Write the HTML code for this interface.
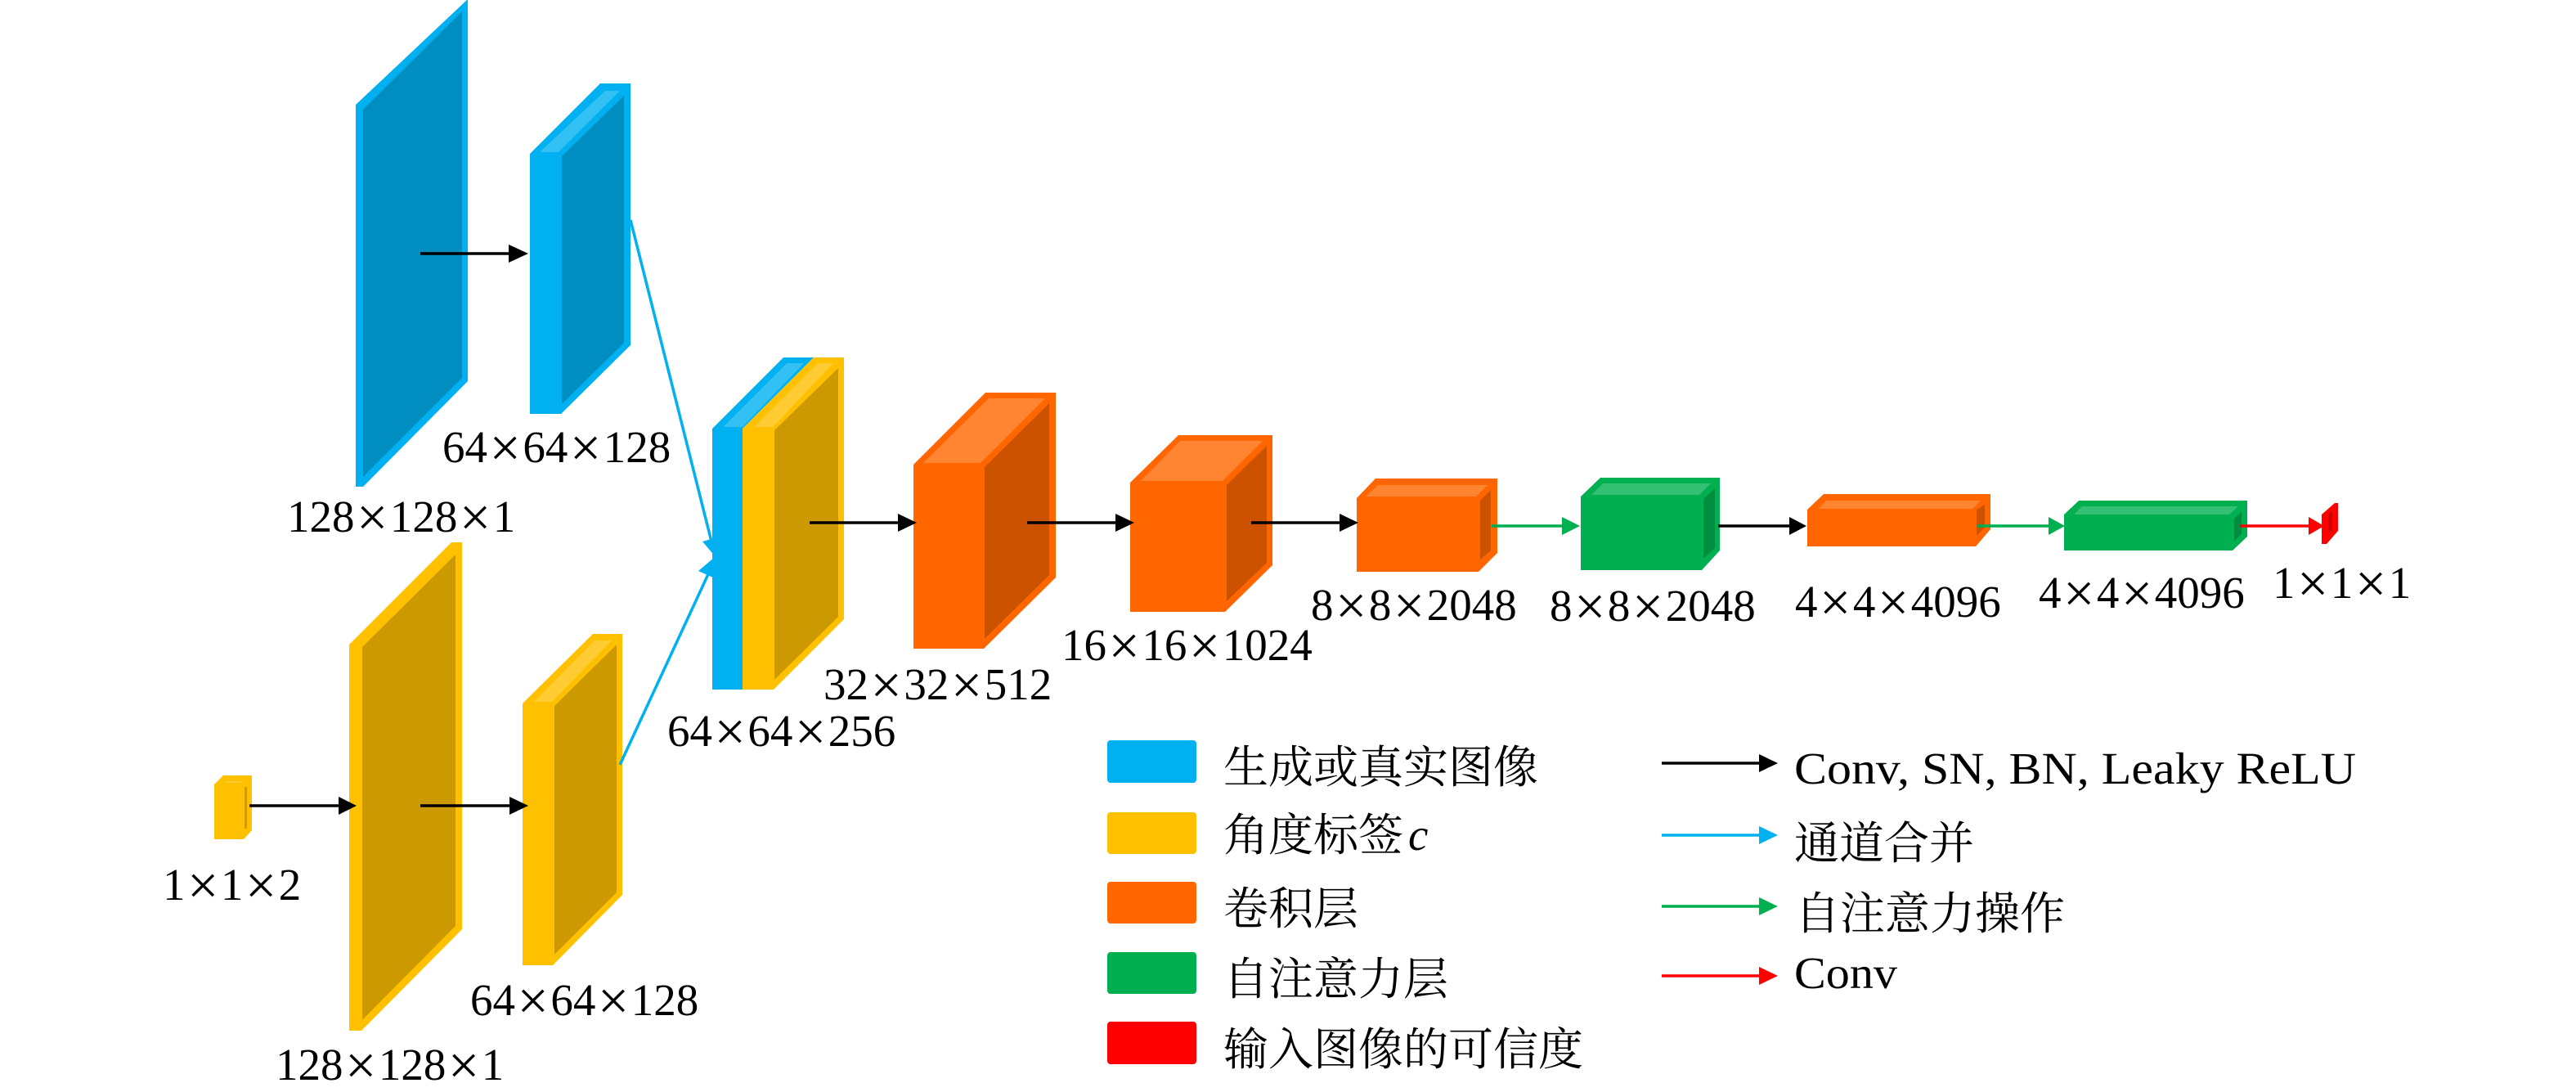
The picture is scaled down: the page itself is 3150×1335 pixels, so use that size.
<!DOCTYPE html>
<html><head><meta charset="utf-8"><style>
html,body{margin:0;padding:0;background:#fff}
svg{display:block}
text{font-family:"Liberation Serif","Noto Serif CJK SC",serif;font-size:55px;fill:#000}
.cj{font-family:"Noto Serif CJK SC","Liberation Serif",serif}
.x{font-size:68px}
</style></head><body>
<svg xmlns="http://www.w3.org/2000/svg" width="3150" height="1335" viewBox="0 0 3150 1335">
<rect width="3150" height="1335" fill="#fff"/>
<!-- blue -->
<polygon fill="#00B0F0" points="435,128 572,-1 572,466 444,595 435,595"/>
<polygon fill="#008DC0" points="444,134 565,14 565,462 444,583"/>
<polygon fill="#00B0F0" points="648,188 734,102 771,102 771,422 686,506 648,506"/>
<polygon fill="#008DC0" points="687,191 763,117 763,419 687,494"/>
<polygon fill="#33C0F3" points="660,186 683,186 758,111 740,111"/>
<!-- yellow -->
<polygon fill="#FFC000" points="262,959 273,948 308,948 308,1015 298,1026 262,1026"/>
<polygon fill="#CC9A00" points="299,962 302,962 302,1013 299,1013"/>
<polygon fill="#FFCD33" points="276,955 296,955 296,957 276,957"/>
<polygon fill="#FFC000" points="427,788 552,663 565,663 565,1136 442,1260 427,1260"/>
<polygon fill="#CC9A00" points="443,791 557,678 557,1132 443,1247"/>
<polygon fill="#FFC000" points="639,860 725,775 761,775 761,1094 676,1180 639,1180"/>
<polygon fill="#CC9A00" points="678,863 754,788 754,1091 678,1167"/>
<polygon fill="#FFCD33" points="653,858 675,858 748,783 727,783"/>
<!-- concat lines -->
<g stroke="#00B0F0" stroke-width="3.5" fill="none">
<line x1="771" y1="269" x2="870" y2="662"/>
<line x1="758" y1="935" x2="866" y2="702"/>
</g>
<polygon fill="#00B0F0" points="859,662 876,682 881,656"/>
<polygon fill="#00B0F0" points="854,698 874,681 874,707"/>
<!-- concat block -->
<polygon fill="#00B0F0" points="871,524 958,437 995,437 908,524 908,843 871,843"/>
<polygon fill="#33C0F3" points="884,522 908,522 983,444 962,444"/>
<polygon fill="#FFC000" points="908,524 995,437 1032,437 1032,757 946,843 908,843"/>
<polygon fill="#CC9A00" points="947,526 1025,450 1025,754 947,831"/>
<polygon fill="#FFCD33" points="922,522 945,522 1019,444 1000,444"/>
<!-- orange -->
<polygon fill="#FF6600" points="1117,568 1205,480 1291,480 1291,706 1203,793 1117,793"/>
<polygon fill="#CC5200" points="1204,571 1283,493 1283,703 1204,781"/>
<polygon fill="#FF8533" points="1129,566 1199,566 1278,487 1209,487"/>
<polygon fill="#FF6600" points="1382,590 1441,532 1556,532 1556,691 1498,748 1382,748"/>
<polygon fill="#CC5200" points="1500,593 1549,545 1549,688 1500,735"/>
<polygon fill="#FF8533" points="1395,588 1495,588 1544,539 1443,539"/>
<polygon fill="#FF6600" points="1659,609 1682,585 1831,585 1831,676 1808,699 1659,699"/>
<polygon fill="#CC5200" points="1810,612 1823,599 1823,673 1810,684"/>
<polygon fill="#FF8533" points="1670,607 1805,607 1819,593 1685,593"/>
<!-- green -->
<polygon fill="#00B050" points="1933,607 1957,584 2103,584 2103,673 2081,697 1933,697"/>
<polygon fill="#008D40" points="2083,610 2097,597 2097,670 2083,683"/>
<polygon fill="#33C073" points="1946,605 2078,605 2092,591 1960,591"/>
<polygon fill="#FF6600" points="2210,623 2230,604 2434,604 2434,647 2416,668 2210,668"/>
<polygon fill="#CC5200" points="2417,623 2427,617 2427,645 2417,655"/>
<polygon fill="#FF8533" points="2224,622 2412,622 2422,612 2233,612"/>
<polygon fill="#00B050" points="2524,629 2542,612 2748,612 2748,656 2730,673 2524,673"/>
<polygon fill="#008D40" points="2732,634 2741,626 2741,652 2732,662"/>
<polygon fill="#33C073" points="2536,629 2726,629 2737,619 2546,619"/>
<!-- red -->
<polygon fill="#FF0000" points="2839,629 2855,615 2859,615 2859,649 2845,665 2839,665"/>
<polygon fill="#CC0000" points="2847,628 2852,624 2852,648 2847,652"/>
<!-- black arrows -->
<g stroke="#000" stroke-width="3.5">
<line x1="514" y1="310" x2="624" y2="310"/>
<line x1="305" y1="985" x2="416" y2="985"/>
<line x1="514" y1="985" x2="625" y2="985"/>
<line x1="990" y1="639" x2="1100" y2="639"/>
<line x1="1256" y1="639" x2="1366" y2="639"/>
<line x1="1530" y1="639" x2="1640" y2="639"/>
<line x1="2101" y1="643" x2="2190" y2="643"/>
<line x1="2032" y1="933" x2="2153" y2="933"/>
</g>
<g fill="#000">
<polygon points="622,299 646,310 622,321"/>
<polygon points="414,974 436,985 414,996"/>
<polygon points="623,974 646,985 623,996"/>
<polygon points="1098,628 1121,639 1098,650"/>
<polygon points="1364,628 1387,639 1364,650"/>
<polygon points="1638,628 1661,639 1638,650"/>
<polygon points="2188,632 2209,643 2188,654"/>
<polygon points="2151,922 2174,933 2151,944"/>
</g>
<!-- coloured arrows -->
<g stroke="#00B050" stroke-width="3.5">
<line x1="1824" y1="643" x2="1912" y2="643"/>
<line x1="2418" y1="643" x2="2507" y2="643"/>
<line x1="2032" y1="1108" x2="2153" y2="1108"/>
</g>
<g fill="#00B050">
<polygon points="1910,632 1932,643 1910,654"/>
<polygon points="2505,632 2525,643 2505,654"/>
<polygon points="2151,1097 2174,1108 2151,1119"/>
</g>
<line x1="2739" y1="643" x2="2825" y2="643" stroke="#FF0000" stroke-width="3.5"/>
<polygon fill="#FF0000" points="2823,632 2842,643 2823,654"/>
<line x1="2032" y1="1021" x2="2153" y2="1021" stroke="#00B0F0" stroke-width="3.5"/>
<polygon fill="#00B0F0" points="2151,1010 2174,1021 2151,1032"/>
<line x1="2032" y1="1193" x2="2153" y2="1193" stroke="#FF0000" stroke-width="3.5"/>
<polygon fill="#FF0000" points="2151,1182 2174,1193 2151,1204"/>
<!-- dim labels -->
<text x="351" y="650">128<tspan class="x" dx="2.5" dy="5">×</tspan><tspan dx="2.5" dy="-5">128</tspan><tspan class="x" dx="2.5" dy="5">×</tspan><tspan dx="2.5" dy="-5">1</tspan></text>
<text x="541" y="565">64<tspan class="x" dx="2.5" dy="5">×</tspan><tspan dx="2.5" dy="-5">64</tspan><tspan class="x" dx="2.5" dy="5">×</tspan><tspan dx="2.5" dy="-5">128</tspan></text>
<text x="199" y="1100">1<tspan class="x" dx="2.5" dy="5">×</tspan><tspan dx="2.5" dy="-5">1</tspan><tspan class="x" dx="2.5" dy="5">×</tspan><tspan dx="2.5" dy="-5">2</tspan></text>
<text x="337" y="1320">128<tspan class="x" dx="2.5" dy="5">×</tspan><tspan dx="2.5" dy="-5">128</tspan><tspan class="x" dx="2.5" dy="5">×</tspan><tspan dx="2.5" dy="-5">1</tspan></text>
<text x="575" y="1241">64<tspan class="x" dx="2.5" dy="5">×</tspan><tspan dx="2.5" dy="-5">64</tspan><tspan class="x" dx="2.5" dy="5">×</tspan><tspan dx="2.5" dy="-5">128</tspan></text>
<text x="816" y="912">64<tspan class="x" dx="2.5" dy="5">×</tspan><tspan dx="2.5" dy="-5">64</tspan><tspan class="x" dx="2.5" dy="5">×</tspan><tspan dx="2.5" dy="-5">256</tspan></text>
<text x="1007" y="855">32<tspan class="x" dx="2.5" dy="5">×</tspan><tspan dx="2.5" dy="-5">32</tspan><tspan class="x" dx="2.5" dy="5">×</tspan><tspan dx="2.5" dy="-5">512</tspan></text>
<text x="1298" y="807">16<tspan class="x" dx="2.5" dy="5">×</tspan><tspan dx="2.5" dy="-5">16</tspan><tspan class="x" dx="2.5" dy="5">×</tspan><tspan dx="2.5" dy="-5">1024</tspan></text>
<text x="1603" y="758">8<tspan class="x" dx="2.5" dy="5">×</tspan><tspan dx="2.5" dy="-5">8</tspan><tspan class="x" dx="2.5" dy="5">×</tspan><tspan dx="2.5" dy="-5">2048</tspan></text>
<text x="1895" y="759">8<tspan class="x" dx="2.5" dy="5">×</tspan><tspan dx="2.5" dy="-5">8</tspan><tspan class="x" dx="2.5" dy="5">×</tspan><tspan dx="2.5" dy="-5">2048</tspan></text>
<text x="2195" y="754">4<tspan class="x" dx="2.5" dy="5">×</tspan><tspan dx="2.5" dy="-5">4</tspan><tspan class="x" dx="2.5" dy="5">×</tspan><tspan dx="2.5" dy="-5">4096</tspan></text>
<text x="2493" y="743">4<tspan class="x" dx="2.5" dy="5">×</tspan><tspan dx="2.5" dy="-5">4</tspan><tspan class="x" dx="2.5" dy="5">×</tspan><tspan dx="2.5" dy="-5">4096</tspan></text>
<text x="2779" y="731">1<tspan class="x" dx="2.5" dy="5">×</tspan><tspan dx="2.5" dy="-5">1</tspan><tspan class="x" dx="2.5" dy="5">×</tspan><tspan dx="2.5" dy="-5">1</tspan></text>
<!-- legend -->
<rect x="1354" y="905" width="109" height="52" rx="4" fill="#00B0F0"/>
<rect x="1354" y="993" width="109" height="51" rx="4" fill="#FFC000"/>
<rect x="1354" y="1078" width="109" height="51" rx="4" fill="#FF6600"/>
<rect x="1354" y="1164" width="109" height="51" rx="4" fill="#00B050"/>
<rect x="1354" y="1249" width="109" height="52" rx="4" fill="#FF0000"/>
<text class="cj" x="1496" y="957">生成或真实图像</text>
<text class="cj" x="1496" y="1040">角度标签</text>
<text x="1722" y="1039" font-style="italic">c</text>
<text class="cj" x="1496" y="1130">卷积层</text>
<text class="cj" x="1496" y="1216">自注意力层</text>
<text class="cj" x="1496" y="1302">输入图像的可信度</text>
<text x="2194" y="958" textLength="687" lengthAdjust="spacingAndGlyphs">Conv, SN, BN, Leaky ReLU</text>
<text class="cj" x="2194" y="1050">通道合并</text>
<text class="cj" x="2195" y="1136">自注意力操作</text>
<text x="2194" y="1208" textLength="126" lengthAdjust="spacingAndGlyphs">Conv</text>
</svg>
</body></html>
